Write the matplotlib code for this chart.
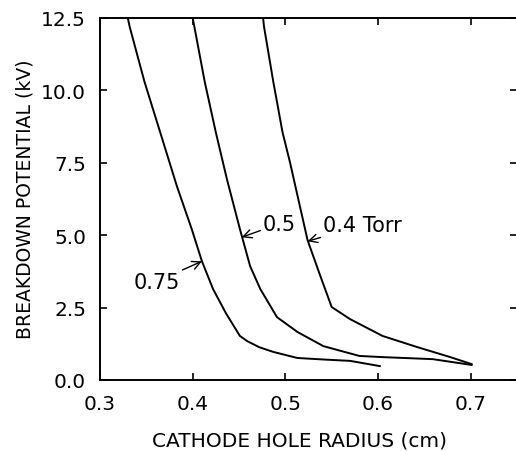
import matplotlib
matplotlib.use('Agg')
import matplotlib.pyplot as plt

# cathode hole radius (cm) vs breakdown potential (kV), one curve per pressure
r_075 = [0.330, 0.332, 0.348, 0.365, 0.383, 0.399, 0.410, 0.422, 0.436, 0.451,
         0.459, 0.472, 0.487, 0.513, 0.540, 0.570, 0.602]
v_075 = [12.5, 12.2, 10.3, 8.55, 6.69, 5.21, 4.10, 3.14, 2.30, 1.52,
         1.34, 1.13, 0.97, 0.76, 0.71, 0.66, 0.48]

r_05 = [0.400, 0.402, 0.413, 0.425, 0.437, 0.451, 0.462, 0.473, 0.491, 0.513,
        0.541, 0.580, 0.605, 0.659, 0.701]
v_05 = [12.5, 12.17, 10.3, 8.55, 6.93, 5.21, 3.93, 3.14, 2.17, 1.66,
        1.17, 0.83, 0.79, 0.72, 0.52]

r_04 = [0.476, 0.477, 0.487, 0.497, 0.505, 0.515, 0.524, 0.537, 0.550, 0.570,
        0.605, 0.642, 0.678, 0.701]
v_04 = [12.5, 12.2, 10.3, 8.55, 7.52, 6.10, 4.83, 3.66, 2.52, 2.10,
        1.52, 1.14, 0.79, 0.55]

xticks = [0.3, 0.4, 0.5, 0.6, 0.7]
yticks = [0.0, 2.5, 5.0, 7.5, 10.0, 12.5]

plt.rcParams['font.family'] = ['DejaVu Sans']

W, H = 516, 452
fig = plt.figure(figsize=(W / 100, H / 100), dpi=100)
ax = fig.add_axes([100 / W, 71 / H, 417 / W, 362 / H])

for r, v in [(r_075, v_075), (r_05, v_05), (r_04, v_04)]:
    ax.plot(r, v, color='black', lw=1.4)

ax.set_xlim(0.3, 0.75)
ax.set_ylim(0, 12.5)
ax.set_xticks(xticks)
ax.set_yticks(yticks)
ax.set_xticklabels(['%.1f' % t for t in xticks])
ax.set_yticklabels(['%.1f' % t for t in yticks])
ax.tick_params(direction='in', length=5, width=1.2, labelsize=14.5,
               top=True, right=True, pad=10)
for s in ax.spines.values():
    s.set_linewidth(1.4)

# axis titles placed in figure pixels
fig.text(300 / W, 1 - 441 / H, 'CATHODE HOLE RADIUS (cm)', fontsize=14.5,
         ha='center', va='center')
fig.text(25 / W, 1 - 199 / H, 'BREAKDOWN POTENTIAL (kV)', fontsize=13.5,
         ha='center', va='center', rotation=90)

arrow = dict(arrowstyle='->', color='black', lw=1.0, shrinkA=0, shrinkB=0)
ax.annotate('0.75', xy=(0.410, 4.10), xytext=(0.386, 3.40), fontsize=15,
            ha='right', va='center', arrowprops=arrow)
ax.annotate('0.5', xy=(0.453, 4.93), xytext=(0.476, 5.40), fontsize=15,
            ha='left', va='center', arrowprops=arrow)
ax.annotate('0.4 Torr', xy=(0.524, 4.79), xytext=(0.541, 5.35), fontsize=15,
            ha='left', va='center', arrowprops=arrow)

fig.savefig('out.png', dpi=100)
